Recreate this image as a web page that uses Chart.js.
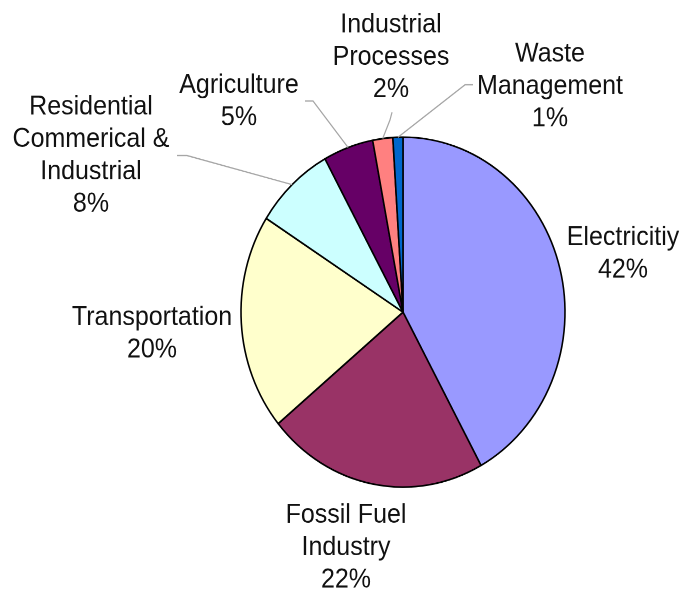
<!DOCTYPE html>
<html>
<head>
<meta charset="utf-8">
<script src="https://cdn.jsdelivr.net/npm/chart.js@4"></script>
<style>
  html, body { margin: 0; padding: 0; background: #ffffff; }
  body { width: 684px; height: 594px; overflow: visible; }
  #wrap { width: 684px; height: 550px; transform: scaleY(1.08); transform-origin: 0 0; }
</style>
</head>
<body>
<div id="wrap"><canvas id="c" width="684" height="550"></canvas></div>
<script>
// ---- data ----
const categories = [
  ['Electricitiy'],
  ['Fossil Fuel', 'Industry'],
  ['Transportation'],
  ['Residential', 'Commerical &', 'Industrial'],
  ['Agriculture'],
  ['Industrial', 'Processes'],
  ['Waste', 'Management']
];
const values = [42, 22, 20, 8, 5, 2, 1];
const sliceColors = ['#9999ff', '#993366', '#ffffcc', '#ccffff', '#660066', '#ff8080', '#0066cc'];

// label placement, relative to the pie centre (first-line baseline, centred)
const labelOffsets = [
  [220, -62], [-57, 195], [-251, 12], [-312, -183], [-164, -203], [-12, -259], [147, -232]
];
// leader-line start points relative to the pie centre (null = no leader)
const leaderStarts = [
  null, null, null,
  [[-226, -145], [-216, -145]],
  [[-98, -195.5], [-90, -195.5]],
  [[-11, -185], [-13, -178]],
  [[70, -210.5], [62, -210.5]]
];
const LINE_H = 30;

const labelPlugin = {
  id: 'sliceLabels',
  afterDatasetsDraw(chart) {
    const ctx = chart.ctx;
    const meta = chart.getDatasetMeta(0);
    const total = values.reduce((a, b) => a + b, 0);
    ctx.save();
    meta.data.forEach((arc, i) => {
      const p = arc.getProps(['x', 'y', 'startAngle', 'endAngle', 'outerRadius'], true);
      const lead = leaderStarts[i];
      if (lead) {
        const mid = (p.startAngle + p.endAngle) / 2;
        const ex = p.x + p.outerRadius * Math.cos(mid);
        const ey = p.y + p.outerRadius * Math.sin(mid);
        ctx.beginPath();
        ctx.strokeStyle = '#a6a6a6';
        ctx.lineWidth = 1.2;
        ctx.moveTo(p.x + lead[0][0], p.y + lead[0][1]);
        for (let k = 1; k < lead.length; k++) ctx.lineTo(p.x + lead[k][0], p.y + lead[k][1]);
        ctx.lineTo(ex, ey);
        ctx.stroke();
      }
      const lines = categories[i].concat([Math.round(values[i] / total * 100) + '%']);
      ctx.font = '25px "Liberation Sans", Arial, sans-serif';
      ctx.fillStyle = '#111111';
      ctx.textAlign = 'center';
      ctx.textBaseline = 'alphabetic';
      const lx = p.x + labelOffsets[i][0];
      const ly = p.y + labelOffsets[i][1];
      lines.forEach((t, j) => ctx.fillText(t, lx, ly + j * LINE_H));
    });
    ctx.restore();
  }
};

new Chart(document.getElementById('c'), {
  type: 'pie',
  data: {
    labels: categories.map(c => c.join(' ')),
    datasets: [{
      data: values,
      backgroundColor: sliceColors,
      borderColor: '#000000',
      borderWidth: 1.6,
      radius: 162
    }]
  },
  options: {
    responsive: false,
    animation: false,
    devicePixelRatio: 2,
    layout: { padding: { left: 122, right: 0, top: 28, bottom: 0 } },
    plugins: { legend: { display: false }, tooltip: { enabled: false } }
  },
  plugins: [labelPlugin]
});
</script>
</body>
</html>
